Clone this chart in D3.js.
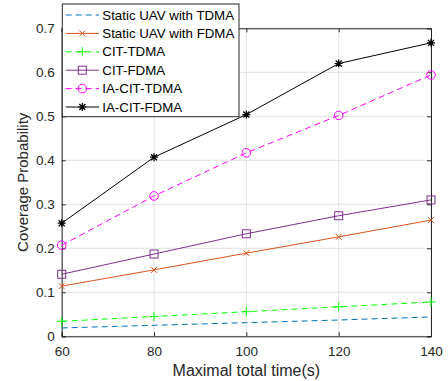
<!DOCTYPE html>
<html>
<head>
<meta charset="utf-8">
<script src="https://cdn.jsdelivr.net/npm/d3@7/dist/d3.min.js"></script>
<style>
  body { margin: 0; background: #fff; }
  svg { display: block; font-family: 'Liberation Sans', Arial, sans-serif; }
</style>
</head>
<body>
<svg id="chart" width="448" height="381"></svg>
<script>
// data
const times = [60, 80, 100, 120, 140];
const staticTdma = [0.019, 0.025, 0.031, 0.037, 0.044];
const staticFdma = [0.114, 0.151, 0.189, 0.226, 0.264];
const citTdma = [0.034, 0.045, 0.056, 0.067, 0.078];
const citFdma = [0.141, 0.187, 0.233, 0.274, 0.310];
const iaCitTdma = [0.207, 0.319, 0.417, 0.502, 0.594];
const iaCitFdma = [0.257, 0.407, 0.504, 0.620, 0.667];
const yTicks = [0, 0.1, 0.2, 0.3, 0.4, 0.5, 0.6, 0.7];

const series = [
    { name: 'Static UAV with TDMA', values: staticTdma, color: '#0072BD', dash: '6,4', marker: 'none' },
    { name: 'Static UAV with FDMA', values: staticFdma, color: '#D95319', dash: null, marker: 'x' },
    { name: 'CIT-TDMA', values: citTdma, color: '#00FF00', dash: '6,4', marker: 'plus' },
    { name: 'CIT-FDMA', values: citFdma, color: '#7E2F8E', dash: null, marker: 'square' },
    { name: 'IA-CIT-TDMA', values: iaCitTdma, color: '#FF00FF', dash: '6,4', marker: 'circle' },
    { name: 'IA-CIT-FDMA', values: iaCitFdma, color: '#000000', dash: null, marker: 'star' }
];

const margin = { top: 28.3, right: 17, bottom: 44.7, left: 61.7 };
const width = 448 - margin.left - margin.right;
const height = 381 - margin.top - margin.bottom;

const svg = d3.select('#chart');
const g = svg.append('g')
    .attr('transform', `translate(${margin.left},${margin.top})`);

const x = d3.scaleLinear().domain([60, 140]).range([0, width]);
const y = d3.scaleLinear().domain([0, 0.7]).range([height, 0]);

// grid
g.append('g')
    .selectAll('line.gx')
    .data(times)
    .enter()
    .append('line')
        .attr('x1', d => x(d)).attr('x2', d => x(d))
        .attr('y1', 0).attr('y2', height)
        .attr('stroke', '#e3e3e3').attr('stroke-width', 1);
g.append('g')
    .selectAll('line.gy')
    .data(yTicks)
    .enter()
    .append('line')
        .attr('y1', d => y(d)).attr('y2', d => y(d))
        .attr('x1', 0).attr('x2', width)
        .attr('stroke', '#e3e3e3').attr('stroke-width', 1);

// axes (ticks pointing inward, like MATLAB)
const axisColor = '#262626';
g.append('g')
    .attr('transform', `translate(0,${height})`)
    .call(d3.axisBottom(x).tickValues(times).tickSize(-4).tickPadding(10).tickFormat(d3.format('d')));
g.append('g')
    .call(d3.axisLeft(y).tickValues(yTicks).tickSize(-4).tickPadding(7).tickFormat(d => d === 0 ? '0' : d3.format('.1f')(d)));
g.append('g')
    .call(d3.axisTop(x).tickValues(times).tickSize(-4).tickFormat(''));
g.append('g')
    .attr('transform', `translate(${width},0)`)
    .call(d3.axisRight(y).tickValues(yTicks).tickSize(-4).tickFormat(''));

g.selectAll('.domain').attr('stroke', axisColor).attr('stroke-width', 1);
g.selectAll('.tick line').attr('stroke', axisColor);
g.selectAll('.tick text')
    .attr('fill', axisColor)
    .style('font-size', '13.5px')
    .style('font-family', "'Liberation Sans', Arial, sans-serif");

// axis labels
svg.append('text')
    .attr('x', margin.left + width / 2)
    .attr('y', 375.5)
    .attr('text-anchor', 'middle')
    .attr('fill', axisColor)
    .style('font-size', '16px')
    .text('Maximal total time(s)');
svg.append('text')
    .attr('transform', `translate(28,${margin.top + height / 2}) rotate(-90)`)
    .attr('text-anchor', 'middle')
    .attr('fill', axisColor)
    .style('font-size', '15px')
    .text('Coverage Probability');

// marker drawing
function drawMarker(sel, type, color) {
    if (type === 'x') {
        sel.append('path').attr('d', 'M-3,-3L3,3M-3,3L3,-3')
            .attr('stroke', color).attr('stroke-width', 1).attr('fill', 'none');
    } else if (type === 'plus') {
        sel.append('path').attr('d', 'M-4.5,0L4.5,0M0,-4.5L0,4.5')
            .attr('stroke', color).attr('stroke-width', 1).attr('fill', 'none');
    } else if (type === 'square') {
        sel.append('rect').attr('x', -4).attr('y', -4).attr('width', 8).attr('height', 8)
            .attr('stroke', color).attr('stroke-width', 1).attr('fill', 'none');
    } else if (type === 'circle') {
        sel.append('circle').attr('r', 4.3)
            .attr('stroke', color).attr('stroke-width', 1).attr('fill', 'none');
    } else if (type === 'star') {
        sel.append('path').attr('d', 'M-4,0L4,0M0,-4L0,4M-3,-3L3,3M-3,3L3,-3')
            .attr('stroke', color).attr('stroke-width', 1.2).attr('fill', 'none');
        sel.append('circle').attr('r', 1.6).attr('fill', color);
    }
}

const line = d3.line()
    .x((d, i) => x(times[i]))
    .y(d => y(d));

series.forEach(s => {
    g.append('path')
        .datum(s.values)
        .attr('d', line)
        .attr('fill', 'none')
        .attr('stroke', s.color)
        .attr('stroke-width', 1)
        .attr('stroke-dasharray', s.dash);
    g.append('g')
        .selectAll('g.marker')
        .data(s.values)
        .enter()
        .append('g')
            .attr('transform', (d, i) => `translate(${x(times[i])},${y(d)})`)
            .each(function() { drawMarker(d3.select(this), s.marker, s.color); });
});

// legend
const legend = svg.append('g').attr('transform', 'translate(62.3,4)');
legend.append('rect')
    .attr('width', 176.7).attr('height', 112.7)
    .attr('fill', '#fff').attr('stroke', axisColor).attr('stroke-width', 1);
series.forEach((s, i) => {
    const ly = 11 + i * 18.4;
    const row = legend.append('g').attr('transform', `translate(0,${ly})`);
    row.append('line')
        .attr('x1', 3.4).attr('x2', 36.7)
        .attr('stroke', s.color).attr('stroke-width', 1)
        .attr('stroke-dasharray', s.dash);
    const m = row.append('g').attr('transform', 'translate(20,0)');
    drawMarker(m, s.marker, s.color);
    row.append('text')
        .attr('x', 40)
        .attr('dy', '0.35em')
        .attr('fill', '#000')
        .style('font-size', '13.3px')
        .text(s.name);
});
</script>
</body>
</html>
